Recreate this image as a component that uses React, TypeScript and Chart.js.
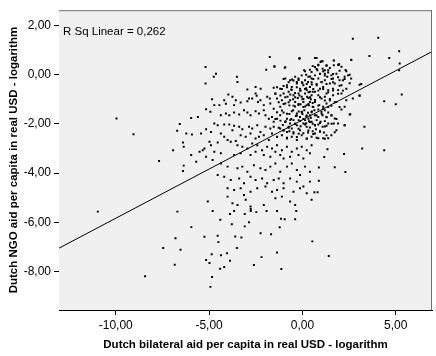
import { useEffect, useRef } from "react";
import { Chart, registerables } from "chart.js";

Chart.register(...registerables);

const xTickValues = [-10, -5, 0, 5];
const yTickValues = [-8, -6, -4, -2, 0, 2];
const X_MIN = -13.04;
const X_MAX = 6.94;
const Y_MIN = -9.57;
const Y_MAX = 2.62;
const fitSlope = 0.4;
const fitIntercept = -1.84;
const rSquaredLabel = "R Sq Linear = 0,262";
const xTitle = "Dutch bilateral aid per capita in real USD - logarithm";
const yTitle = "Dutch NGO aid per capita in real USD - logarithm";

type P = [number, number];

const outliers: P[] = [
  [-10.96, -5.57], [-9.96, -1.78], [-9.05, -2.42], [-8.43, -8.2], [-7.68, -3.51], [-7.46, -7.05],
  [-6.93, -3.07], [-6.84, -7.73], [-6.8, -6.65], [-6.71, -2.28], [-6.7, -5.57], [-6.57, -2.01],
  [-6.53, -7.12], [-6.4, -2.76], [-6.36, -2.93], [-6.36, -3.7], [-6.4, -3.92],
  [-5.19, 0.31], [-4.63, 0.04], [-4.75, -0.09], [-5.19, -0.36],
  [-1.75, 0.72], [-1.94, 0.2], [-1.5, 0.34], [-0.95, 0.28], [-0.16, 0.65],
  [2.7, 1.46], [4.06, 1.5], [5.18, 0.95], [4.65, 0.68], [3.59, 0.76], [5.21, 0.45], [5.18, 0.18],
  [2.61, 0.61], [4.38, -1.08], [5.0, -1.2], [5.32, -0.81], [3.06, -0.41], [3.06, -0.86],
  [3.32, -2.12], [3.2, -3.0], [4.38, -3.07], [2.23, -3.23], [2.3, -3.96], [1.73, -3.77],
  [0.88, -4.31], [0.64, -4.78], [0.81, -4.78], [1.41, -7.37], [0.53, -6.78],
  [2.09, -1.42], [2.56, -1.61], [2.26, -2.05], [1.82, -2.26], [1.55, -2.46], [1.38, -2.59],
  [1.11, -2.59], [0.85, -2.59], [1.34, -3.03], [1.17, -3.35], [0.88, -3.78],
];

const lowerBand: P[] = [
  [-4.81, -5.54], [-3.66, -5.54], [-3.88, -5.67], [-3.09, -5.67], [-2.77, -5.46], [-2.77, -5.54],
  [-2.47, -5.59], [-1.92, -5.54], [-1.36, -5.54], [-0.33, -5.54], [-0.39, -5.88], [-1.15, -5.86],
  [-0.95, -5.88], [-4.4, -5.9], [-3.78, -6.08], [-2.86, -6.0], [-3.09, -6.17], [-1.22, -6.21],
  [-5.95, -6.2], [-4.54, -6.55], [-5.25, -6.59], [-3.6, -6.58], [-3.27, -6.62], [-2.24, -6.45],
  [-1.68, -6.49], [-4.5, -6.81], [-3.51, -7.05], [-4.86, -7.3], [-4.36, -7.34], [-4.04, -7.26],
  [-1.36, -7.23], [-2.19, -7.42], [-5.16, -7.54], [-4.98, -7.66], [-3.88, -7.57], [-4.19, -7.82],
  [-4.41, -7.89], [-2.6, -7.74], [-1.13, -7.9], [-4.84, -8.23], [-4.93, -8.63],
];

const middleBand: P[] = [
  [-5.16, -1.41], [-4.93, -1.51], [-5.96, -1.76], [-5.6, -1.72], [-4.37, -1.65], [-4.1, -1.58],
  [-3.92, -1.65], [-3.66, -1.54], [-3.39, -1.62], [-3.13, -1.45], [-2.95, -1.54], [-2.78, -1.65],
  [-2.51, -1.49], [-2.33, -1.58], [-2.07, -1.45], [-1.98, -1.65], [-1.8, -1.79], [-1.63, -1.72],
  [-1.54, -1.92], [-1.36, -1.79], [-1.19, -1.65], [-1.01, -1.54], [-0.83, -1.79], [-0.66, -1.99],
  [-0.48, -1.85], [-0.3, -1.58], [-0.13, -1.72], [-0.04, -1.51], [0.14, -1.85], [0.32, -1.79],
  [0.4, -1.65], [0.49, -1.92], [-4.54, -2.06], [-4.72, -1.99], [-4.19, -2.03], [-3.92, -2.03],
  [-3.66, -2.08], [-3.39, -2.12], [-3.75, -2.26], [-3.22, -2.22], [-2.86, -2.12], [-2.69, -2.19],
  [-2.42, -2.06], [-2.25, -2.33], [-1.98, -2.12], [-1.72, -2.19], [-1.54, -2.12], [-1.19, -2.19],
  [-1.01, -2.26], [-0.74, -2.12], [-0.57, -2.19], [-0.3, -2.06], [-0.13, -2.26], [0.05, -1.99],
  [0.23, -2.12], [-0.48, -2.39], [-0.83, -2.33],
  [-6.22, -2.39], [-5.92, -2.43], [-5.43, -2.39], [-5.16, -2.22], [-4.9, -2.33], [-4.37, -2.39],
  [-4.19, -2.53], [-4.01, -2.66], [-3.84, -2.73], [-3.57, -2.7], [-4.54, -2.76], [-4.98, -2.73],
  [-4.9, -2.87], [-5.34, -3.07], [-5.51, -3.14], [-5.96, -3.27], [-5.16, -3.34], [-5.25, -3.0],
  [-4.72, -3.14], [-4.37, -3.2], [-5.69, -3.54],
  [-3.31, -2.46], [-3.04, -2.53], [-2.78, -2.39], [-2.51, -2.6], [-2.33, -2.53], [-2.07, -2.46],
  [-1.8, -2.66], [-1.63, -2.39], [-1.36, -2.53], [-1.1, -2.46], [-0.83, -2.6], [-0.57, -2.53],
  [-0.3, -2.66], [-0.04, -2.46], [0.23, -2.6], [0.49, -2.53], [-3.48, -2.87], [-3.22, -2.93],
  [-2.95, -3.0], [-2.69, -2.8], [-2.42, -2.87], [-2.16, -3.07], [-1.89, -2.93], [-1.63, -3.0],
  [-1.36, -2.87], [-1.1, -3.07], [-0.83, -2.93], [-0.57, -3.14], [-0.3, -3.0], [-0.04, -2.93],
  [0.23, -3.07], [0.49, -2.87], [-3.66, -3.27], [-3.31, -3.2], [-2.78, -3.27], [-2.51, -3.14],
  [-2.07, -3.27], [-1.72, -3.34], [-1.45, -3.14], [-1.19, -3.27], [-1.01, -3.41], [-0.66, -3.34],
  [-0.21, -3.27], [0.05, -3.41], [0.4, -3.2],
  [-4.81, -3.47], [-4.37, -3.61], [-4.01, -3.74], [-3.48, -3.81], [-3.22, -3.74], [-2.95, -3.95],
  [-2.6, -3.68], [-2.25, -3.81], [-1.98, -3.88], [-1.72, -3.74], [-1.45, -3.61], [-1.19, -3.95],
  [-0.83, -3.74], [-0.57, -3.61], [-0.3, -3.88], [-0.13, -4.08], [0.14, -3.74], [0.4, -3.95],
  [-4.54, -4.08], [-4.19, -4.15], [-3.84, -4.28], [-3.39, -4.22], [-3.13, -4.42], [-2.78, -4.15],
  [-2.51, -4.28], [-2.16, -4.22], [-1.89, -4.42], [-1.54, -4.28], [-1.27, -4.22], [-1.01, -4.42],
  [-0.66, -4.22], [-0.3, -4.35], [0.05, -4.55], [0.4, -4.35], [-4.01, -4.62], [-3.66, -4.69],
  [-3.31, -4.62], [-3.13, -4.89], [-2.78, -4.76], [-2.42, -4.62], [-1.98, -4.55], [-1.63, -4.76],
  [-1.36, -4.69], [-1.01, -4.62], [-0.48, -4.76], [-0.13, -4.62], [0.23, -4.82], [-5.07, -5.16],
  [-4.01, -4.96], [-3.75, -5.23], [-3.48, -5.3], [-3.04, -5.09], [-2.78, -5.36], [-2.07, -5.3],
  [-1.45, -5.03], [-1.1, -4.96], [-0.66, -5.16], [-0.39, -5.3], [0.49, -5.09],
];

const upperBand: P[] = [
  [-3.51, -0.09], [-3.48, -0.3], [-2.95, -0.6], [-2.51, -0.5], [-2.24, -0.57], [-3.97, -0.81],
  [-3.75, -0.9], [-3.57, -1.04], [-4.84, -1.0], [-4.45, -1.24], [-4.1, -1.18], [-3.66, -1.24],
  [-2.95, -1.08], [-2.69, -0.97], [-2.45, -0.86], [-2.38, -1.11], [-2.07, -1.24], [-1.89, -0.9],
  [-1.75, -0.97], [-1.54, -0.53], [-1.19, -0.57], [-1.01, -0.46], [-0.92, -0.16], [-0.66, -0.23],
  [-0.39, -0.09], [-0.21, -0.16], [-0.04, -0.03], [0.14, -0.23], [0.32, -0.09], [0.49, -0.16],
  [0.49, 0.11], [0.09, 0.18], [-0.83, -0.43], [-0.57, -0.5], [-0.3, -0.36], [-0.13, -0.57],
  [0.05, -0.43], [0.23, -0.63], [0.4, -0.5], [0.55, -0.7], [-1.01, -0.77], [-0.74, -0.7],
  [-0.48, -0.84], [-0.21, -0.77], [-0.04, -0.9], [0.14, -0.77], [0.32, -0.95], [0.49, -0.84],
  [-1.36, -0.97], [-1.1, -1.04], [-0.92, -1.17], [-0.66, -1.04], [-0.39, -1.11], [-0.21, -1.24],
  [0.05, -1.11], [0.23, -1.24], [0.4, -1.11], [0.55, -1.31], [-1.19, -1.31], [-1.72, -1.17],
  [-1.45, -0.77], [-2.51, -0.77], [-2.25, -1.04], [-2.86, -0.97], [-3.31, -1.13], [-4.19, -1.04],
  [-4.72, -1.24],
];

const coreCluster: P[] = [
  [0.76, 0.68], [0.85, 0.38], [1.02, 0.54], [1.29, 0.38], [1.68, 0.58], [1.96, 0.41], [2.35, 0.14],
  [2.44, -0.03], [1.2, 0.18], [0.94, 0.04], [1.64, -0.16], [2.17, -0.23], [2.61, -0.16], [1.47, -0.36],
  [2.35, -0.57], [1.29, -0.77], [2.7, -0.97], [2.26, -1.31], [0.67, 0.31], [0.8, 0.18], [1.08, 0.24],
  [1.2, 0.04], [1.38, 0.18], [1.47, 0.27], [0.67, -0.03], [0.85, -0.16], [1.02, -0.3], [1.2, -0.23],
  [1.33, -0.09], [1.55, -0.03], [1.82, 0.04], [1.99, -0.23], [1.73, -0.36], [0.76, -0.43], [0.94, -0.57],
  [1.11, -0.5], [1.38, -0.63], [1.64, -0.57], [1.91, -0.63], [2.09, -0.77], [0.67, -0.7], [0.85, -0.84],
  [1.02, -0.97], [1.2, -0.9], [1.47, -1.04], [1.64, -0.84], [1.82, -1.11], [0.67, -1.11], [0.9, -1.24],
  [1.11, -1.31], [1.29, -1.17], [1.55, -1.27], [2.35, -1.04], [2.09, -0.43], [2.26, -0.09], [1.68, 0.38],
  [1.96, 0.41], [0.97, 0.51], [0.64, -1.45], [0.85, -1.42], [1.02, -1.51], [1.2, -1.45], [1.38, -1.54],
  [0.67, -1.65], [0.85, -1.72], [1.08, -1.65], [1.29, -1.72], [0.76, -1.85], [0.97, -1.92], [1.2, -1.89],
  [1.38, -1.99], [0.67, -2.05], [0.85, -2.03], [1.08, -2.12], [1.29, -2.08], [1.68, -1.99], [1.91, -1.99],
  [0.72, -2.22], [0.94, -2.32], [1.15, -2.35], [0.67, -2.39], [1.73, -1.78], [1.55, -1.65],
  [-0.5, -1.45], [-0.2, -1.5], [0.1, -1.45], [0.3, -1.55], [0.5, -1.5], [-0.7, -1.6], [-0.35, -1.68],
  [0.0, -1.6], [0.2, -1.7], [0.45, -1.75], [-0.6, -1.8], [-0.2, -1.85], [0.05, -1.8], [0.35, -1.9],
  [0.55, -2.0], [-0.4, -2.0], [-0.1, -2.1], [0.2, -1.98], [0.4, -2.15], [0.55, -2.3], [-0.9, -1.9],
  [-1.05, -2.05], [-0.7, -2.3], [-0.2, -2.4], [0.3, -2.35], [-0.6, -0.6], [-0.4, -0.75], [-0.1, -0.65],
  [0.2, -0.55], [0.4, -0.7], [-0.8, -0.9], [-0.5, -1.0], [-0.25, -0.95], [0.0, -1.0], [0.25, -0.9],
  [0.45, -1.0], [-0.7, -1.25], [-0.4, -1.3], [-0.1, -1.2], [0.15, -1.3], [0.35, -1.25], [0.55, -1.15],
  [-0.3, -0.3], [0.0, -0.35], [0.3, -0.3], [0.5, -0.4], [-0.55, -0.2], [0.2, 0.0], [0.4, 0.2], [0.55, 0.35],
];

const denseCore: P[] = [
  [-0.16, 0.68], [0.67, 0.68], [1.08, 0.54], [1.68, 0.57], [2.62, 0.59], [-0.92, 0.3], [-1.5, 0.32],
  [0.85, 0.4], [0.76, 0.23], [1.29, 0.36], [1.91, 0.4], [2.09, 0.32], [1.99, 0.16], [2.31, 0.19],
  [0.14, 0.14], [1.11, 0.14], [1.38, 0.09], [1.64, 0.03], [0.94, 0.03], [1.2, -0.04], [2.53, 0.0],
  [0.41, -0.08], [0.58, -0.18], [1.56, -0.18], [1.91, -0.11], [2.26, -0.18], [-1.01, -0.18],
  [-0.74, -0.31], [-0.48, -0.24], [-0.21, -0.22], [-0.03, -0.31], [0.23, -0.38], [0.49, -0.31],
  [0.76, -0.38], [1.03, -0.31], [1.29, -0.38], [1.64, -0.31], [1.99, -0.45], [2.53, -0.35], [3.15, -0.38],
  [-1.36, -0.51], [-1.1, -0.58], [-0.83, -0.51], [-0.57, -0.62], [-0.3, -0.51], [-0.12, -0.65],
  [0.14, -0.58], [0.32, -0.72], [0.58, -0.58], [0.85, -0.65], [1.11, -0.58], [1.38, -0.72], [1.64, -0.65],
  [1.91, -0.78], [2.17, -0.65], [3.06, -0.85], [-1.45, -0.78], [-1.18, -0.85], [-0.92, -0.92],
  [-0.65, -0.81], [-0.39, -0.92], [-0.16, -0.85], [0.05, -0.99], [0.41, -0.92], [0.67, -1.03],
  [0.94, -0.92], [1.2, -1.05], [1.47, -0.99], [1.73, -1.12], [-1.27, -1.12], [-1.01, -1.19],
  [-0.74, -1.12], [-0.48, -1.26], [-0.21, -1.19], [0.05, -1.32], [0.32, -1.19], [0.58, -1.32],
  [0.85, -1.26], [1.11, -1.39], [1.38, -1.32], [1.99, -1.32], [-1.54, -1.39], [-1.36, -1.53],
  [-1.1, -1.46], [-0.83, -1.59], [-0.57, -1.49], [-0.3, -1.66], [-0.03, -1.53], [0.23, -1.66],
  [0.49, -1.53], [0.76, -1.66], [1.03, -1.59], [1.29, -1.73], [1.56, -1.66], [1.82, -1.8], [2.53, -1.62],
  [-1.45, -1.8], [-1.18, -1.87], [-0.92, -1.93], [-0.65, -1.84], [-0.39, -2.0], [-0.12, -1.89],
  [0.14, -2.03], [0.41, -1.93], [0.67, -2.07], [0.94, -1.97], [1.2, -2.11], [1.56, -2.0], [2.26, -2.07],
  [-1.27, -2.16], [-1.01, -2.27], [-0.74, -2.16], [-0.48, -2.34], [-0.21, -2.2], [0.05, -2.38],
  [0.32, -2.27], [0.58, -2.41], [0.94, -2.3], [1.29, -2.47], [1.73, -2.34], [-1.36, -2.54],
  [-0.83, -2.57], [-0.3, -2.54], [0.23, -2.61], [0.76, -2.57], [1.2, -2.61],
];

const allPoints: P[] = [...outliers, ...lowerBand, ...middleBand, ...upperBand, ...coreCluster, ...denseCore];

const fmt = (v: number) => v.toFixed(2).replace(".", ",");

const framePlugin = {
  id: "frame",
  beforeDatasetsDraw(chart: any) {
    const { ctx, chartArea: a } = chart;
    ctx.save();
    ctx.fillStyle = "#f0f0f0";
    ctx.fillRect(a.left, a.top, a.right - a.left, a.bottom - a.top);
    ctx.restore();
  },
  afterDraw(chart: any) {
    const { ctx, chartArea: a } = chart;
    ctx.save();
    ctx.strokeStyle = "#707070";
    ctx.lineWidth = 1;
    ctx.beginPath();
    ctx.moveTo(a.left, a.top + 0.5);
    ctx.lineTo(a.right, a.top + 0.5);
    ctx.moveTo(a.right - 0.5, a.top);
    ctx.lineTo(a.right - 0.5, a.bottom);
    ctx.stroke();
    ctx.fillStyle = "#000";
    ctx.font = "11.5px 'Liberation Sans', Arial, sans-serif";
    ctx.textBaseline = "middle";
    ctx.fillText(rSquaredLabel, a.left + 4, a.top + 22);
    ctx.restore();
  },
};

export default function App() {
  const ref = useRef<HTMLCanvasElement | null>(null);
  useEffect(() => {
    document.body.style.margin = "0";
    const canvas = ref.current;
    if (!canvas) return;
    const font = { family: "'Liberation Sans', Arial, sans-serif", size: 12 };
    const titleFont = { family: "'Liberation Sans', Arial, sans-serif", size: 11.5, weight: "bold" };
    const chart = new Chart(canvas, {
      type: "scatter",
      data: {
        datasets: [
          {
            type: "scatter",
            data: allPoints.map(([x, y]) => ({ x, y })),
            pointStyle: "rect",
            pointRadius: 1.4,
            pointBorderWidth: 0,
            backgroundColor: "#000",
            borderColor: "#000",
          },
          {
            type: "line",
            data: [X_MIN, X_MAX].map((x) => ({ x, y: fitIntercept + fitSlope * x })),
            borderColor: "#000",
            borderWidth: 1,
            pointRadius: 0,
            fill: false,
          },
        ],
      },
      options: {
        animation: false,
        responsive: false,
        devicePixelRatio: 1,
        layout: { padding: { top: 9, right: 0, left: 0, bottom: 0 } },
        plugins: { legend: { display: false }, tooltip: { enabled: false } },
        scales: {
          x: {
            type: "linear",
            min: X_MIN,
            max: X_MAX,
            afterBuildTicks: (s: any) => {
              s.ticks = xTickValues.map((v) => ({ value: v }));
            },
            afterFit: (s: any) => {
              s.height = 46;
            },
            ticks: { color: "#000", font, padding: 3, maxRotation: 0, callback: (v: any) => fmt(Number(v)) },
            grid: { display: true, drawOnChartArea: false, drawTicks: true, tickLength: 5, color: "#000" },
            border: { display: true, color: "#000", width: 1 },
            title: {
              display: true,
              text: xTitle,
              color: "#000",
              font: titleFont,
              padding: { top: 0, bottom: 4 },
            },
          },
          y: {
            type: "linear",
            min: Y_MIN,
            max: Y_MAX,
            afterBuildTicks: (s: any) => {
              s.ticks = yTickValues.map((v) => ({ value: v }));
            },
            afterFit: (s: any) => {
              s.width = 59;
            },
            ticks: { color: "#000", font, padding: 3, callback: (v: any) => fmt(Number(v)) },
            grid: { display: true, drawOnChartArea: false, drawTicks: true, tickLength: 5, color: "#000" },
            border: { display: true, color: "#000", width: 1 },
            title: {
              display: true,
              text: yTitle,
              color: "#000",
              font: titleFont,
              padding: { top: 7, bottom: 0 },
            },
          },
        },
      },
      plugins: [framePlugin],
    } as any);
    return () => chart.destroy();
  }, []);
  return <canvas ref={ref} width={436} height={356} style={{ display: "block" }} />;
}
